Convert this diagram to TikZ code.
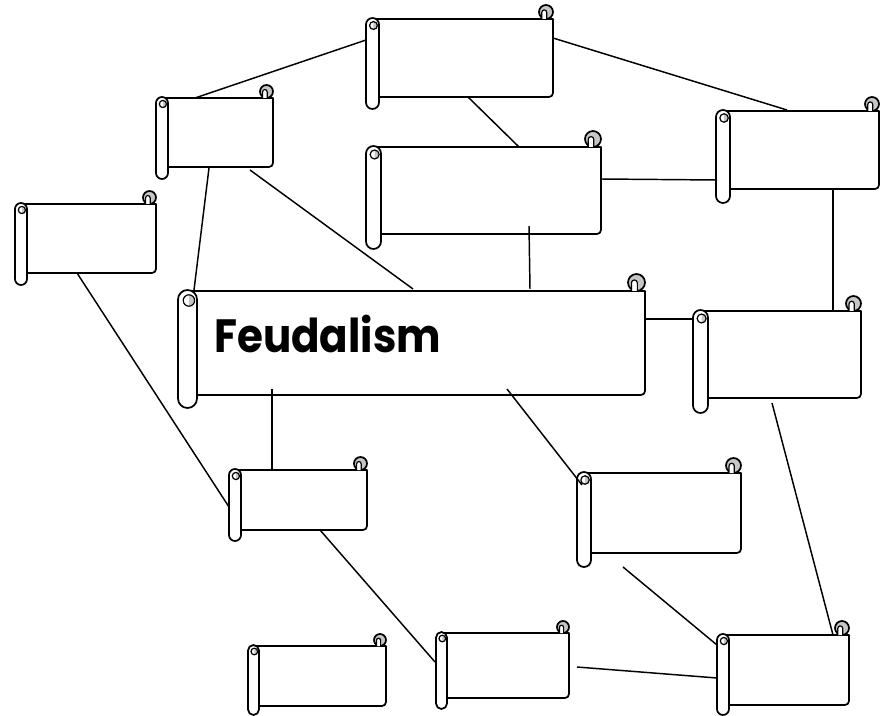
\documentclass[tikz,border=0pt]{standalone}
\usepackage{fontspec}
\usetikzlibrary{calc}
\newfontfamily\titlefont{Poppins}
\newcommand\scrollbox[8]{%
 % #1 name, #2 roll left, #3 roll right, #4 top, #5 bottom, #6 right, #7 roll bottom, #8 curl radius
 \pgfmathsetmacro\sbh{(#3-#2)/2}%
 \pgfmathsetmacro\sbm{(#2+#3)/2}%
 \pgfmathsetmacro\sbtop{#4-1}%
 \pgfmathsetmacro\sbcx{#6-#8}%
 \pgfmathsetmacro\sbcy{#4-#8}%
 \pgfmathsetmacro\sbhl{\sbcx-0.6*#8}%
 \pgfmathsetmacro\sbhr{\sbcx+0.1*#8}%
 \pgfmathsetmacro\sbhy{\sbcy+0.05*#8}%
 \pgfmathsetmacro\sbhrad{0.35*#8}%
 \pgfmathsetmacro\sbix{\sbm+0.15*\sbh}%
 \pgfmathsetmacro\sbiy{\sbtop+\sbh+1}%
 \pgfmathsetmacro\sbir{0.6*\sbh}%
 \node[inner sep=0pt, outer sep=0pt, minimum width={(#6-#2)*0.75pt},
   minimum height={(#5-#4)*0.75pt}, anchor=north west] (#1) at (#2,#4) {};
 \draw[scrollline, fill=white] (\sbm,#4) -- (#6,#4) -- (#6,#5-4) arc (0:90:4) -- (\sbm,#5) -- cycle;
 \draw[scrollline, fill=gray!45] (\sbcx,\sbcy) circle (#8);
 \draw[scrollline, line width=0.9pt, fill=white] (\sbhl,#4) -- (\sbhl,\sbhy) arc (180:360:\sbhrad) -- (\sbhr,#4);
 \draw[scrollline, fill=white] (#2,\sbtop+\sbh) arc (180:360:\sbh) -- (#3,#7-\sbh) arc (0:180:\sbh) -- cycle;
 \fill[white] (\sbix,\sbiy) circle (\sbir);
 \fill[gray!45] (\sbix,\sbiy-\sbir) arc (270:450:\sbir) -- cycle;
 \draw[line width=0.9pt] (\sbix,\sbiy) circle (\sbir);
}
\begin{document}
\begin{tikzpicture}[x=0.75pt,y=-0.75pt,
  scrollline/.style={line width=1.3pt, line join=round},
  link/.style={line width=1.1pt}]
\useasboundingbox[fill=white] (0,0) rectangle (881,716);

\scrollbox{s1}{366}{379}{19}{97}{553}{109}{7}
\scrollbox{s2}{156}{168}{98}{167}{273}{179}{6.5}
\scrollbox{s3}{15}{27}{204}{273}{156}{285}{6.5}
\scrollbox{s4}{366}{381}{147}{234}{601}{249}{8}
\scrollbox{s5}{716}{730}{111}{189}{879}{203}{7}
\scrollbox{s6}{178}{197}{291}{395}{645}{408}{8.5}
\scrollbox{s7}{693}{708}{311}{398}{861}{413}{7.5}
\scrollbox{s8}{229}{241}{470}{530}{367}{541}{6.5}
\scrollbox{s9}{577}{591}{473}{553}{741}{567}{7.5}
\scrollbox{s10}{717}{729}{635}{705}{849}{715}{7}
\scrollbox{s11}{436}{447}{633}{698}{569}{709}{6}
\scrollbox{s12}{248}{259}{646}{706}{386}{715}{6}

\node[anchor=base west, inner sep=0pt, xscale=0.9, font=\titlefont\bfseries\fontsize{35}{35}\selectfont] (title) at (214,353) {Feudalism};

\draw[link] ($(s1.north west)+(0,21)$) -- ($(s2.north west)+(39,0)$);
\draw[link] ($(s1.north west)+(187,19)$) -- ($(s5.north west)+(71,-1)$);
\draw[link] ($(s1.north west)+(102,78)$) -- ($(s4.north west)+(153,0)$);
\draw[link] ($(s2.north west)+(53,70)$) -- ($(s6.north west)+(16,-1)$);
\draw[link] ($(s2.north west)+(94,72)$) -- ($(s6.north west)+(235,-2)$);
\draw[link] ($(s4.north west)+(235,32)$) -- ($(s5.north west)+(1,69)$);
\draw[link] ($(s4.north west)+(163,79)$) -- ($(s6.north west)+(352,-2)$);
\draw[link] ($(s5.north west)+(117,79)$) -- ($(s7.north west)+(140,0)$);
\draw[link] ($(s6.north west)+(467,28)$) -- ($(s7.north west)+(1,8)$);
\draw[link] ($(s3.north west)+(62,69)$) -- ($(s8.north west)+(0,37)$);
\draw[link] ($(s6.north west)+(94,98)$) -- ($(s8.north west)+(43,0)$);
\draw[link] ($(s6.north west)+(329,98)$) -- ($(s9.north west)+(5,12)$);
\draw[link] ($(s7.north west)+(79,92)$) -- ($(s10.north west)+(116,0)$);
\draw[link] ($(s9.north west)+(46,94)$) -- ($(s10.north west)+(0,10)$);
\draw[link] ($(s8.north west)+(91,60)$) -- ($(s11.north west)+(-1,29)$);
\draw[link] ($(s11.north west)+(141,34)$) -- ($(s10.north west)+(0,43)$);
\end{tikzpicture}
\end{document}
